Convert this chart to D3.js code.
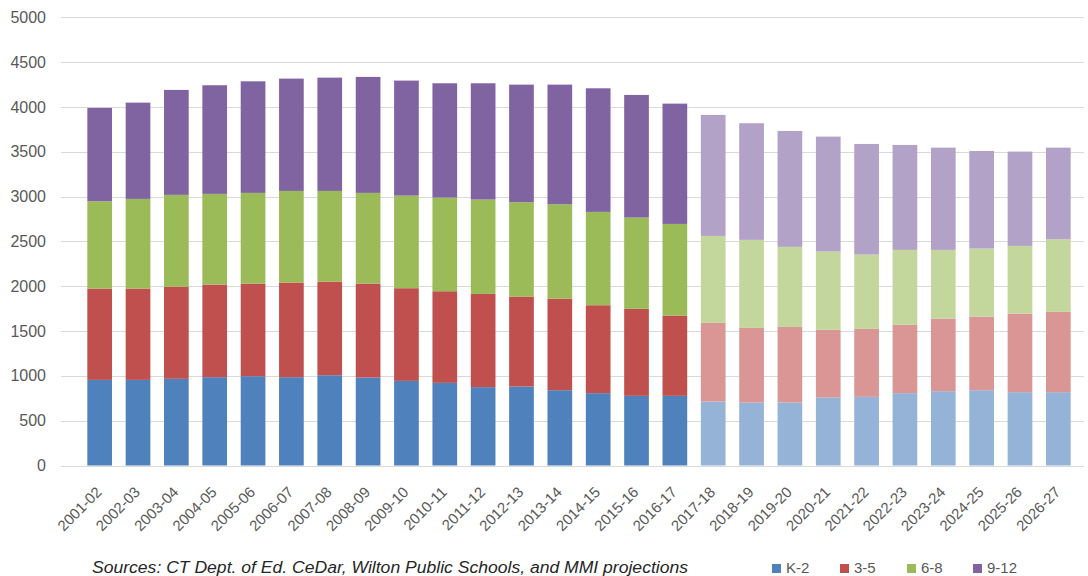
<!DOCTYPE html>
<html>
<head>
<meta charset="utf-8">
<script src="https://cdn.jsdelivr.net/npm/d3@7"></script>
<style>
  html, body { margin: 0; padding: 0; background: #fff; }
  svg { display: block; }
</style>
</head>
<body>
<svg id="chart" width="1088" height="576"></svg>
<script>
const categories = ["2001-02","2002-03","2003-04","2004-05","2005-06","2006-07","2007-08","2008-09","2009-10","2010-11","2011-12","2012-13","2013-14","2014-15","2015-16","2016-17","2017-18","2018-19","2019-20","2020-21","2021-22","2022-23","2023-24","2024-25","2025-26","2026-27"];
const seriesNames = ["K-2","3-5","6-8","9-12"];
const k2   = [955,955,967,985,996,985,1007,981,944,922,874,881,840,807,777,777,714,703,703,758,766,807,829,840,818,818];
const g35  = [1019,1019,1029,1034,1034,1056,1045,1049,1034,1022,1040,1004,1022,981,970,896,877,832,843,755,758,762,810,822,877,896];
const g68  = [974,1000,1023,1011,1011,1022,1011,1011,1033,1045,1053,1052,1052,1041,1019,1022,970,982,893,874,829,836,766,758,755,810];
const g912 = [1041,1074,1171,1212,1245,1253,1264,1294,1283,1275,1297,1312,1335,1379,1368,1342,1350,1301,1293,1282,1234,1171,1141,1089,1052,1022];
const firstProjected = "2017-18";
const yTicks = [0,500,1000,1500,2000,2500,3000,3500,4000,4500,5000];
const sourceText = "Sources: CT Dept. of Ed. CeDar, Wilton Public Schools, and MMI projections";

const colors = ["#4F81BD","#C0504D","#9BBB59","#8064A2"];
const lightColors = ["#95B3D7","#DA9694","#C3D69B","#B3A2C7"];

const rows = categories.map((c, i) => ({cat: c, "K-2": k2[i], "3-5": g35[i], "6-8": g68[i], "9-12": g912[i]}));
const stacked = d3.stack().keys(seriesNames)(rows);
const projIdx = categories.indexOf(firstProjected);

const svg = d3.select("#chart");
const x = d3.scaleBand().domain(categories).range([80.5, 1077.5]).paddingInner(0.356).paddingOuter(0.178);
const y = d3.scaleLinear().domain([0, 5000]).range([465.5, 17.3]);

// gridlines
svg.append("g").selectAll("line").data(yTicks).join("line")
  .attr("x1", 61).attr("x2", 1084)
  .attr("y1", d => Math.round(y(d)) + 0.5).attr("y2", d => Math.round(y(d)) + 0.5)
  .attr("stroke", "#d9d9d9").attr("stroke-width", 1.2);

// y axis labels
const yAxis = d3.axisLeft(y).tickValues(yTicks).tickSize(0).tickPadding(0).tickFormat(d3.format("d"));
const yg = svg.append("g").attr("transform", "translate(46,0)").call(yAxis);
yg.select(".domain").remove();
yg.selectAll("text").attr("font-family", "Liberation Sans, Arial, sans-serif").attr("font-size", 16).attr("fill", "#595959");

// bars
svg.append("g").selectAll("g").data(stacked).join("g")
  .each(function(s, si) {
    d3.select(this).selectAll("rect").data(s).join("rect")
      .attr("x", d => x(d.data.cat))
      .attr("width", x.bandwidth())
      .attr("y", d => y(d[1]))
      .attr("height", d => y(d[0]) - y(d[1]))
      .attr("fill", (d, i) => i >= projIdx ? lightColors[si] : colors[si]);
  });

// x labels
svg.append("g").selectAll("text").data(categories).join("text")
  .attr("transform", d => `translate(${x(d) + x.bandwidth() / 2 + 3},493) rotate(-45)`)
  .attr("text-anchor", "end")
  .attr("font-family", "Liberation Sans, Arial, sans-serif").attr("font-size", 15)
  .attr("fill", "#595959")
  .text(d => d);

// source note
svg.append("text").attr("x", 92).attr("y", 573)
  .attr("font-family", "Liberation Sans, Arial, sans-serif").attr("font-size", 16)
  .attr("font-style", "italic").attr("fill", "#262626")
  .attr("textLength", 596).attr("lengthAdjust", "spacingAndGlyphs")
  .text(sourceText);

// legend
const legendX = [772, 840, 907, 973];
const lg = svg.append("g").selectAll("g").data(seriesNames).join("g")
  .attr("transform", (d, i) => `translate(${legendX[i]},0)`);
lg.append("rect").attr("x", 0).attr("y", 564).attr("width", 9).attr("height", 9)
  .attr("fill", (d, i) => colors[i]);
lg.append("text").attr("x", 14).attr("y", 573)
  .attr("font-family", "Liberation Sans, Arial, sans-serif").attr("font-size", 15)
  .attr("fill", "#595959").text(d => d);
</script>
</body>
</html>
